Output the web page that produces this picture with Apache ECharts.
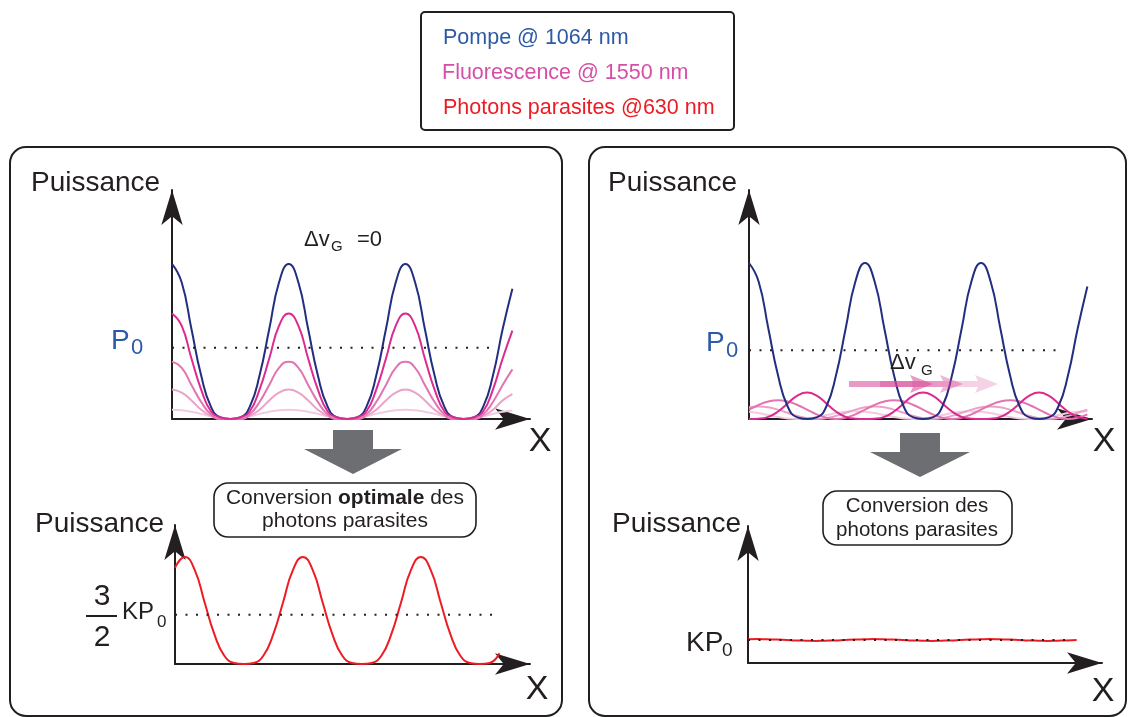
<!DOCTYPE html>
<html>
<head>
<meta charset="utf-8">
<script src="https://cdn.jsdelivr.net/npm/echarts@6.0.0/dist/echarts.min.js"></script>
<style>
html, body { margin: 0; padding: 0; background: #fff; }
#chart { width: 1131px; height: 717px; }
</style>
</head>
<body>
<div id="chart"></div>
<script>
// x of every curve = sample index, 12 samples per pump period
var pumpLeft   = [1, .88, .58, .28, .08, .01, 0, .01, .08, .28, .58, .88, 1, .88, .58, .28, .08, .01, 0, .01, .08, .28, .58, .88, 1, .88, .58, .28, .08, .01, 0, .01, .08, .28, .58, .84];
var fluoLeft1  = [.68, .6, .39, .19, .05, .01, 0, .01, .05, .19, .39, .6, .68, .6, .39, .19, .05, .01, 0, .01, .05, .19, .39, .6, .68, .6, .39, .19, .05, .01, 0, .01, .05, .19, .39, .57];
var fluoLeft2  = [.37, .33, .22, .11, .03, 0, 0, 0, .03, .11, .22, .33, .37, .33, .22, .11, .03, 0, 0, 0, .03, .11, .22, .33, .37, .33, .22, .11, .03, 0, 0, 0, .03, .11, .22, .32];
var fluoLeft3  = [.19, .17, .12, .06, .02, 0, 0, 0, .02, .06, .12, .17, .19, .17, .12, .06, .02, 0, 0, 0, .02, .06, .12, .17, .19, .17, .12, .06, .02, 0, 0, 0, .02, .06, .12, .16];
var fluoLeft4  = [.06, .057, .047, .033, .018, .006, 0, .006, .018, .033, .047, .057, .06, .057, .047, .033, .018, .006, 0, .006, .018, .033, .047, .057, .06, .057, .047, .033, .018, .006, 0, .006, .018, .033, .047, .055];
var redLeft    = [.9, 1, .88, .58, .28, .08, .01, 0, .01, .08, .28, .58, .88, 1, .88, .58, .28, .08, .01, 0, .01, .08, .28, .58, .88, 1, .88, .58, .28, .08, .01, 0, .01, .1];

var pumpRight  = [1, .88, .58, .28, .08, .01, 0, .01, .08, .28, .58, .88, 1, .88, .58, .28, .08, .01, 0, .01, .08, .28, .58, .88, 1, .88, .58, .28, .08, .01, 0, .01, .08, .28, .58, .85];
var fluoRight1 = [0, .002, .014, .048, .1, .15, .17, .15, .1, .048, .014, .002, 0, .002, .014, .048, .1, .15, .17, .15, .1, .048, .014, .002, 0, .002, .014, .048, .1, .15, .17, .15, .1, .048, .014, .002];
var fluoRight2 = [.06, .09, .112, .12, .112, .09, .06, .03, .008, 0, .008, .03, .06, .09, .112, .12, .112, .09, .06, .03, .008, 0, .008, .03, .06, .09, .112, .12, .112, .09, .06, .03, .008, 0, .008, .03];
var fluoRight3 = [.075, .08, .075, .06, .04, .02, .005, 0, .005, .02, .04, .06, .075, .08, .075, .06, .04, .02, .005, 0, .005, .02, .04, .06, .075, .08, .075, .06, .04, .02, .005, 0, .005, .02, .04, .06];
var fluoRight4 = [.047, .038, .025, .013, .003, 0, .003, .013, .025, .038, .047, .05, .047, .038, .025, .013, .003, 0, .003, .013, .025, .038, .047, .05, .047, .038, .025, .013, .003, 0, .003, .013, .025, .038, .047, .05];
var redRight   = [1.03, 1.04, 1.03, 1.02, 1, .98, .97, .96, .97, .98, 1, 1.02, 1.03, 1.04, 1.03, 1.02, 1, .98, .97, .96, .97, .98, 1, 1.02, 1.03, 1.04, 1.03, 1.02, 1, .98, .97, .96, .97, .98, 1];

// dotted reference levels [level, last x]
var p0Left    = [0.46, 32.7];
var kp0Left   = [0.46, 32.7];
var p0Right   = [0.44, 32.2];
var kp0Right  = [1, 33.1];

var legendItems = ['Pompe @ 1064 nm', 'Fluorescence @ 1550 nm', 'Photons parasites @630 nm'];

var DARK = '#231f20';
var FONT = '"Liberation Sans", Arial, Helvetica, sans-serif';
var BLUE_TXT = '#2d5aa8';
var PUMP = '#222e7f';
var RED = '#ed1c24';
var PINKS = ['#dc2a8e', '#e274b2', '#eba2c9', '#f3cadf'];

var el = document.getElementById('chart');
var chart = echarts.init(el, null, { renderer: 'canvas' });

function curve(gi, values, color, z) {
    return {
        type: 'line', xAxisIndex: gi, yAxisIndex: gi,
        data: values.map(function (v, i) { return [i, v]; }),
        smooth: true, showSymbol: false, symbol: 'none', clip: false, silent: true,
        lineStyle: { color: color, width: 2 }, z: z || 2
    };
}
function dotted(gi, lvl) {
    return {
        type: 'line', xAxisIndex: gi, yAxisIndex: gi,
        data: [[0, lvl[0]], [lvl[1], lvl[0]]],
        showSymbol: false, symbol: 'none', clip: false, silent: true,
        lineStyle: { color: DARK, width: 2, type: [2, 8.5] }, z: 5
    };
}
function axis(gi, max) {
    return {
        gridIndex: gi, type: 'value', min: 0, max: max,
        axisLine: { show: true, onZero: false, symbol: ['none', 'arrow'], symbolSize: [16, 35],
            lineStyle: { color: DARK, width: 2 } },
        axisTick: { show: false }, axisLabel: { show: false }, splitLine: { show: false }
    };
}
function txt(x, y, s, size, color, align, weight) {
    return {
        type: 'text', z: 20, silent: true,
        style: {
            x: x, y: y, text: s, fill: color || DARK,
            fontSize: size, fontFamily: FONT, fontWeight: weight || 'normal',
            align: align || 'left', verticalAlign: 'middle'
        }
    };
}
function box(x, y, w, h, r, lw) {
    return { type: 'rect', z: 1, silent: true, shape: { x: x, y: y, width: w, height: h, r: r },
        style: { fill: 'none', stroke: DARK, lineWidth: lw || 2 } };
}
function downArrow(cx, y0, y1, y2, sw, hw) {
    // big gray arrow: shaft from y0 to y1, head from y1 to tip y2
    return { type: 'polygon', z: 10, silent: true,
        shape: { points: [[cx - sw, y0], [cx + sw, y0], [cx + sw, y1], [cx + hw, y1], [cx, y2],
            [cx - hw, y1], [cx - sw, y1]] },
        style: { fill: '#6d6e71' } };
}
function pinkArrow(x0, tip, y, alpha) {
    return { type: 'polygon', z: 12, silent: true,
        shape: { points: [[x0, y - 3], [tip - 20, y - 3], [tip - 23, y - 9], [tip, y],
            [tip - 23, y + 9], [tip - 20, y + 3], [x0, y + 3]] },
        style: { fill: 'rgba(214,70,150,' + alpha + ')' } };
}

var graphics = [
    box(421, 12, 313, 118, 4, 2),
    box(10, 147, 552, 569, 16, 2),
    box(589, 147, 537, 569, 16, 2),
    box(214, 483, 262, 54, 14, 1.6),
    box(823, 491, 189, 54, 14, 1.6),
    txt(443, 38, legendItems[0], 21.5, BLUE_TXT),
    txt(442, 73.5, legendItems[1], 21.5, '#d54fa7'),
    txt(443, 108.5, legendItems[2], 21.5, RED),

    txt(31, 183, 'Puissance', 28),
    txt(608, 183, 'Puissance', 28),
    txt(35, 524, 'Puissance', 28),
    txt(612, 524, 'Puissance', 28),

    txt(111, 341, 'P', 28, BLUE_TXT),
    txt(131, 348, '0', 22, BLUE_TXT),
    txt(706, 343, 'P', 28, BLUE_TXT),
    txt(726, 351, '0', 22, BLUE_TXT),

    txt(304, 240, 'Δv', 22),
    txt(331, 247, 'G', 15),
    txt(357, 240, '=0', 22),
    txt(890, 363, 'Δv', 22),
    txt(921, 371, 'G', 15),

    txt(540, 442, 'X', 34, DARK, 'center'),
    txt(1104, 442, 'X', 34, DARK, 'center'),
    txt(537, 690, 'X', 34, DARK, 'center'),
    txt(1103, 692, 'X', 34, DARK, 'center'),

    txt(102, 597, '3', 30, DARK, 'center'),
    txt(102, 638, '2', 30, DARK, 'center'),
    { type: 'line', z: 20, silent: true, shape: { x1: 86, y1: 616, x2: 117, y2: 616 },
        style: { stroke: DARK, lineWidth: 2 } },
    txt(122, 612, 'KP', 24),
    txt(157, 622, '0', 17),
    txt(686, 643, 'KP', 28),
    txt(722, 651, '0', 19),

    {
        type: 'text', z: 20, silent: true,
        style: {
            x: 345, y: 498, text: 'Conversion {b|optimale} des', fill: DARK,
            fontSize: 21, fontFamily: FONT, align: 'center', verticalAlign: 'middle',
            rich: { b: { fontSize: 21, fontFamily: FONT, fontWeight: 'bold', fill: DARK } }
        }
    },
    txt(345, 521, 'photons parasites', 21, DARK, 'center'),
    txt(917, 506, 'Conversion des', 20.5, DARK, 'center'),
    txt(917, 530, 'photons parasites', 20.5, DARK, 'center'),

    downArrow(353, 430, 449, 474, 20, 49),
    downArrow(920, 433, 452, 477, 20, 50),

    pinkArrow(849, 933, 384, 0.55),
    pinkArrow(880, 963, 384, 0.4),
    pinkArrow(912, 998, 384, 0.25)
];

chart.setOption({
    backgroundColor: '#ffffff',
    animation: false,
    grid: [
        { left: 172, top: 190, width: 358, height: 229 },
        { left: 175, top: 525, width: 355, height: 139 },
        { left: 749, top: 190, width: 343, height: 229 },
        { left: 748, top: 526, width: 354, height: 137 }
    ],
    xAxis: [axis(0, 36.81), axis(1, 36.1), axis(2, 35.48), axis(3, 36.62)],
    yAxis: [axis(0, 1.477), axis(1, 1.299), axis(2, 1.468), axis(3, 5.96)],
    series: [
        curve(0, pumpLeft, PUMP, 2),
        curve(0, fluoLeft4, PINKS[3], 3),
        curve(0, fluoLeft3, PINKS[2], 3),
        curve(0, fluoLeft2, PINKS[1], 3),
        curve(0, fluoLeft1, PINKS[0], 3),
        dotted(0, p0Left),

        curve(1, redLeft, RED, 2),
        dotted(1, kp0Left),

        curve(2, fluoRight4, PINKS[3], 2),
        curve(2, fluoRight3, PINKS[2], 2),
        curve(2, fluoRight2, PINKS[1], 2),
        curve(2, fluoRight1, PINKS[0], 3),
        curve(2, pumpRight, PUMP, 3),
        dotted(2, p0Right),

        curve(3, redRight, RED, 2),
        dotted(3, kp0Right)
    ],
    graphic: { elements: graphics }
});

window.addEventListener('resize', function () { chart.resize(); });
</script>
</body>
</html>
